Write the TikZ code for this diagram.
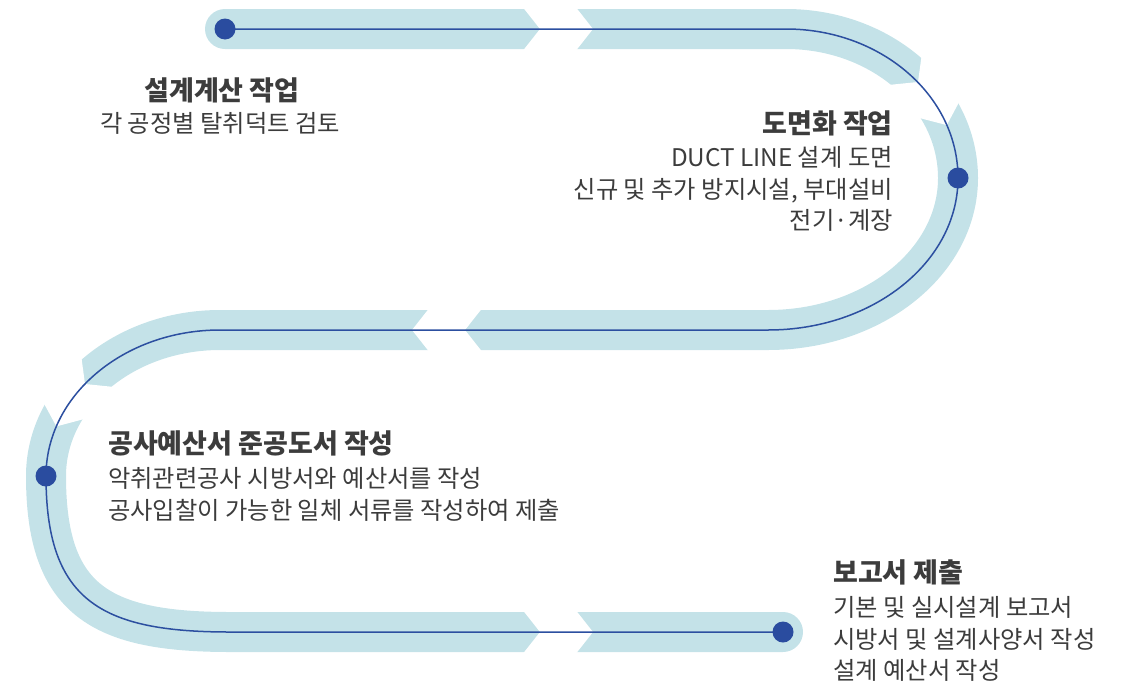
\documentclass[tikz,border=0pt]{standalone}
\usepackage{fontspec}
\newfontfamily\kr{Noto Sans CJK KR}
\definecolor{band}{HTML}{C4E2E8}
\definecolor{lineblue}{HTML}{2C4FA0}
\definecolor{dotblue}{HTML}{2A4C9F}
\definecolor{txt}{HTML}{3C3C3C}
\tikzset{
  bandline/.style={draw=band, line width=40pt, line cap=round, line join=round},
  thinline/.style={draw=lineblue, line width=1.5pt},
  dotnode/.style={circle, fill=dotblue, minimum size=21pt, inner sep=0pt},
  ttl/.style={font=\kr\fontsize{27}{30}\selectfont\bfseries, text=txt, inner sep=0pt},
  body/.style={font=\kr\fontsize{24.3}{30}\selectfont, text=txt, inner sep=0pt}
}
\newcommand\gapcut[6]{%
  \fill[white] ([shift={(#1,#2)},rotate=#3]0,0) -- ([shift={(#1,#2)},rotate=#3]-19.7,25)
   -- ([shift={(#4,#5)},rotate=#6]-19.7,25) -- ([shift={(#4,#5)},rotate=#6]0,0)
   -- ([shift={(#4,#5)},rotate=#6]-19.7,-25) -- ([shift={(#1,#2)},rotate=#3]-19.7,-25) -- cycle;}
\begin{document}
\begin{tikzpicture}[x=1pt,y=-1pt]
\useasboundingbox (0,0) rectangle (1126,683);
% path points
\coordinate (d1) at (225,29);
\coordinate (d2) at (958,178);
\coordinate (d3) at (46,476);
\coordinate (d4) at (783,632);
\coordinate (c1) at (786,29);
\coordinate (c2) at (768,330);
\coordinate (c3) at (220,330);
\coordinate (c4) at (230,632);
\def\track{(d1) -- (c1) .. controls (881,29) and (958,95.7) .. (d2)
  .. controls (958,262) and (873,330) .. (c2) -- (c3)
  .. controls (124,330) and (46,395.4) .. (d3)
  .. controls (46,600) and (100,632) .. (c4) -- (d4)}
\draw[bandline] \track;
% chevron gaps
\gapcut{540}{29}{0}{593}{29}{0}
\gapcut{918}{82}{-46}{946.8}{125.1}{-66.3}
\gapcut{465}{330}{180}{412}{330}{180}
\gapcut{85}{384}{-134.1}{56.4}{426.4}{-113.3}
\gapcut{540}{632}{0}{593}{632}{0}
\draw[thinline] \track;
\node[dotnode] (n1) at (d1) {};
\node[dotnode] (n2) at (d2) {};
\node[dotnode] (n3) at (d3) {};
\node[dotnode] (n4) at (d4) {};
% texts
\node[ttl, anchor=base] (t1) at (222,100) {설계계산 작업};
\node[body, anchor=base] (b1) at (220,132) {각 공정별 탈취덕트 검토};
\node[ttl, anchor=base east] (t2) at (893,133) {도면화 작업};
\node[body, anchor=base east] (b2a) at (893,166) {DUCT LINE 설계 도면};
\node[body, anchor=base east] (b2b) at (893,198) {신규 및 추가 방지시설, 부대설비};
\node[body, anchor=base east] (b2c) at (893,229) {전기·계장};
\node[ttl, anchor=base west] (t3) at (108,453) {공사예산서 준공도서 작성};
\node[body, anchor=base west] (b3a) at (108,487) {악취관련공사 시방서와 예산서를 작성};
\node[body, anchor=base west] (b3b) at (108,519) {공사입찰이 가능한 일체 서류를 작성하여 제출};
\node[ttl, anchor=base west] (t4) at (833,582) {보고서 제출};
\node[body, anchor=base west] (b4a) at (833,616) {기본 및 실시설계 보고서};
\node[body, anchor=base west] (b4b) at (833,648) {시방서 및 설계사양서 작성};
\node[body, anchor=base west] (b4c) at (833,679) {설계 예산서 작성};
\end{tikzpicture}
\end{document}
